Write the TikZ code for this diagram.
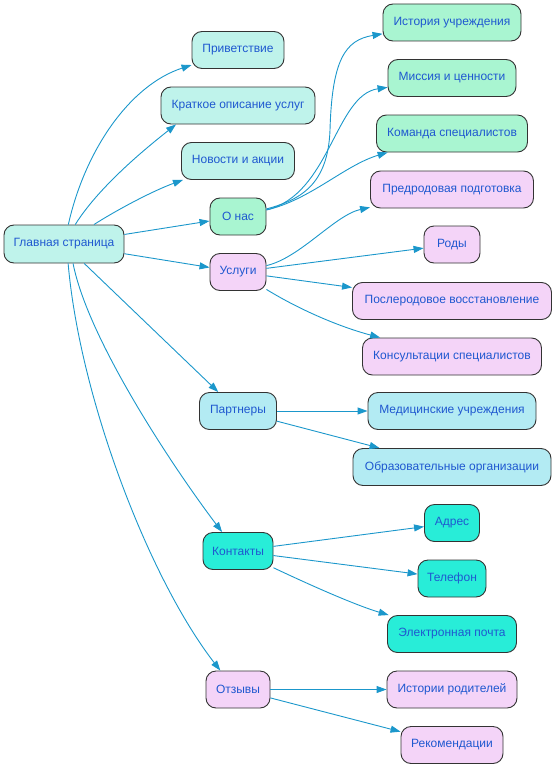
\documentclass[tikz,border=0pt]{standalone}
\usepackage{fontspec}
\setmainfont{Liberation Sans}
\usetikzlibrary{arrows.meta}
\definecolor{edgec}{HTML}{1B97CB}
\definecolor{txtc}{HTML}{1F58D0}
\definecolor{bordc}{HTML}{333333}
\definecolor{cmain}{HTML}{BFF3EB}
\definecolor{cabout}{HTML}{A9F5D1}
\definecolor{cserv}{HTML}{F4D4F8}
\definecolor{cpart}{HTML}{B3EBF3}
\definecolor{ccont}{HTML}{28EDD8}
\tikzset{
  box/.style={draw=bordc, line width=0.9pt, rounded corners=10pt, minimum height=37pt,
    inner sep=0pt, text=txtc, font=\fontsize{12}{14}\selectfont, anchor=center},
  edge/.style={draw=edgec, line width=0.9pt, -{Triangle[length=10pt,width=7pt]}},
}
\begin{document}
\begin{tikzpicture}[x=1pt,y=1pt]
\useasboundingbox (0,0) rectangle (556,-768);
% level 0
\node[box, fill=cmain, minimum width=120pt, minimum height=38pt] (main) at (64,-244) {Главная страница};
% level 1
\node[box, fill=cmain, minimum width=92pt] (priv) at (238,-50) {Приветствие};
\node[box, fill=cmain, minimum width=154pt] (krat) at (238,-105.5) {Краткое описание услуг};
\node[box, fill=cmain, minimum width=113pt] (news) at (238,-161) {Новости и акции};
\node[box, fill=cabout, minimum width=56pt] (onas) at (238,-216.5) {О нас};
\node[box, fill=cserv, minimum width=56pt] (usl) at (238,-272) {Услуги};
\node[box, fill=cpart, minimum width=77pt] (part) at (238,-411) {Партнеры};
\node[box, fill=ccont, minimum width=70pt] (kont) at (238,-551) {Контакты};
\node[box, fill=cserv, minimum width=64pt] (otz) at (238,-689.5) {Отзывы};
% level 2
\node[box, fill=cabout, minimum width=138pt] (hist) at (452,-22.5) {История учреждения};
\node[box, fill=cabout, minimum width=128pt] (miss) at (452,-78) {Миссия и ценности};
\node[box, fill=cabout, minimum width=151pt] (team) at (452,-133.5) {Команда специалистов};
\node[box, fill=cserv, minimum width=163pt] (pred) at (452,-189.5) {Предродовая подготовка};
\node[box, fill=cserv, minimum width=56pt] (rody) at (452,-244.5) {Роды};
\node[box, fill=cserv, minimum width=199pt] (post) at (452,-301) {Послеродовое восстановление};
\node[box, fill=cserv, minimum width=179pt] (kons) at (452,-356.5) {Консультации специалистов};
\node[box, fill=cpart, minimum width=168pt] (med) at (452,-411) {Медицинские учреждения};
\node[box, fill=cpart, minimum width=198pt] (obr) at (452,-467) {Образовательные организации};
\node[box, fill=ccont, minimum width=55pt] (addr) at (452,-523) {Адрес};
\node[box, fill=ccont, minimum width=68pt] (tel) at (452,-578.5) {Телефон};
\node[box, fill=ccont, minimum width=129pt] (mail) at (452,-634) {Электронная почта};
\node[box, fill=cserv, minimum width=130pt] (istr) at (452,-689.5) {Истории родителей};
\node[box, fill=cserv, minimum width=102pt] (rec) at (452,-745) {Рекомендации};
% edges from main
\draw[edge] (main) .. controls (85,-150) and (130,-85) .. (priv);
\draw[edge] (main.60) .. controls (100,-185) and (150,-145) .. (krat.197.6);
\draw[edge] (main.33) .. controls (120,-208) and (155,-190) .. (news.199);
\draw[edge] (main) -- (onas);
\draw[edge] (main) -- (usl);
\draw[edge] (main) -- (part);
\draw[edge] (main.295) .. controls (88,-340) and (175,-470) .. (kont.130);
\draw[edge] (main.282) .. controls (80,-400) and (150,-580) .. (otz.133.5);
% about
\draw[edge] (onas) .. controls (300,-200) and (328,-185) .. (330,-130) .. controls (332,-60) and (345,-40) .. (hist);
\draw[edge] (onas) .. controls (330,-195) and (335,-95) .. (miss);
\draw[edge] (onas) .. controls (310,-200) and (345,-165) .. (team);
% services
\draw[edge] (usl) .. controls (300,-258) and (335,-215) .. (pred);
\draw[edge] (usl) -- (rody);
\draw[edge] (usl) -- (post);
\draw[edge] (usl) .. controls (300,-310) and (340,-327) .. (kons);
% partners
\draw[edge] (part) -- (med);
\draw[edge] (part) -- (obr);
% contacts
\draw[edge] (kont) -- (addr);
\draw[edge] (kont) -- (tel);
\draw[edge] (kont) .. controls (310,-585) and (355,-605) .. (mail);
% reviews
\draw[edge] (otz) -- (istr);
\draw[edge] (otz) -- (rec);
\end{tikzpicture}
\end{document}
